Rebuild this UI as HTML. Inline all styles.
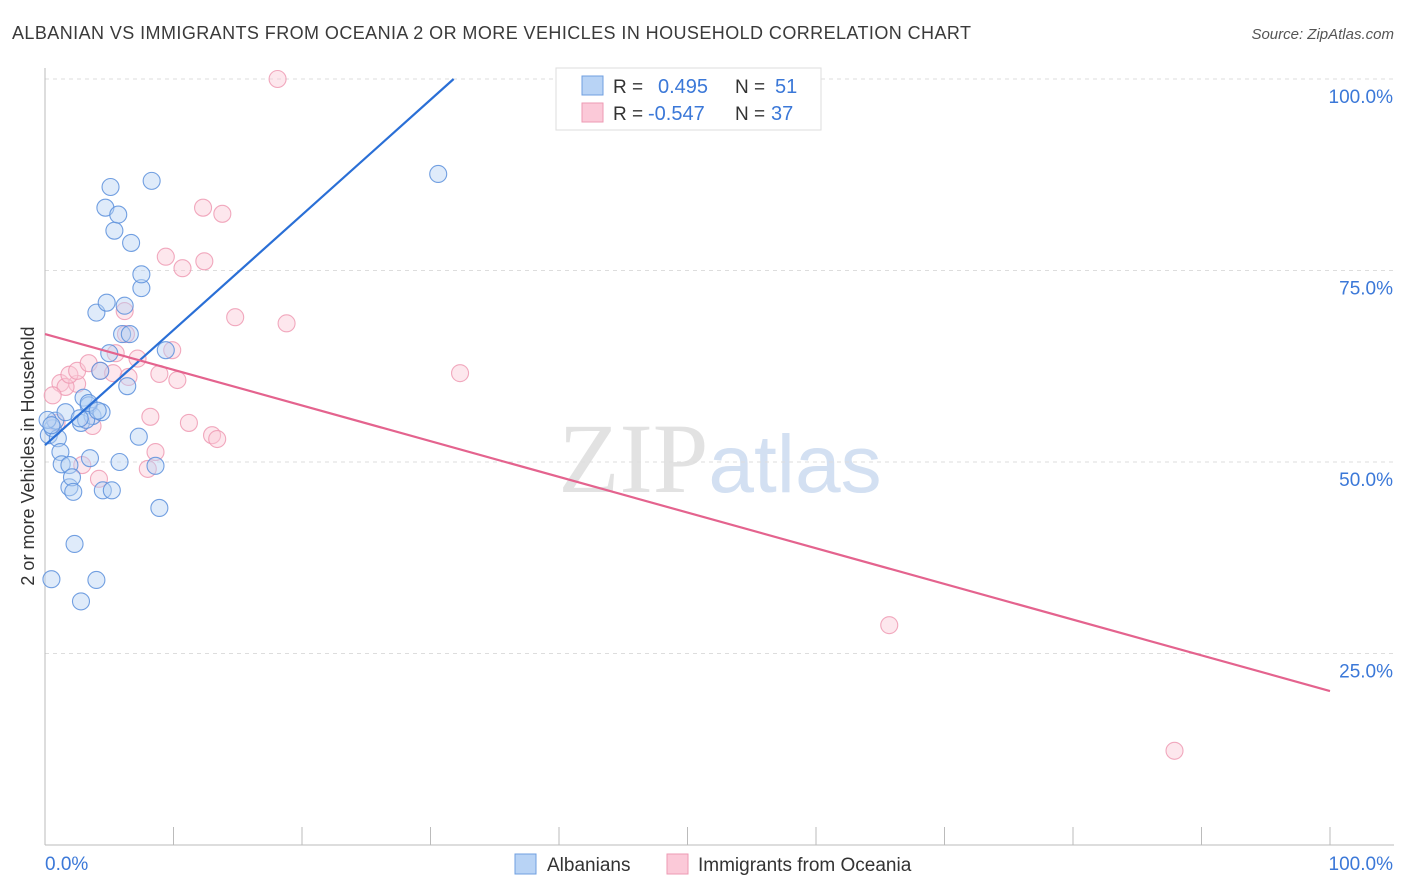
<!DOCTYPE html>
<html><head><meta charset="utf-8"><style>
body{margin:0;background:#fff;font-family:"Liberation Sans",sans-serif;}
svg{display:block}
</style></head><body>
<svg id="chart" width="1406" height="892" xmlns="http://www.w3.org/2000/svg" font-family="Liberation Sans, sans-serif">
<text x="12" y="39" font-size="18" fill="#3a3a3a" textLength="959" lengthAdjust="spacing">ALBANIAN VS IMMIGRANTS FROM OCEANIA 2 OR MORE VEHICLES IN HOUSEHOLD CORRELATION CHART</text>
<text x="1394" y="39" font-size="15" fill="#555" text-anchor="end" font-style="italic">Source: ZipAtlas.com</text>
<text x="720" y="492" font-size="100" text-anchor="middle" fill="#e2e2e2" font-family="Liberation Serif, serif">ZIP<tspan fill="#d3e0f2" font-family="Liberation Sans, sans-serif" font-size="82">atlas</tspan></text>
<g id="grid"></g>
<g id="axes"></g>
<g id="pts"></g>
<g id="lines"></g>
<text transform="translate(34,456) rotate(-90)" font-size="18" fill="#333" text-anchor="middle">2 or more Vehicles in Household</text>
<g>
<rect x="556" y="68" width="265" height="62" fill="#fff" stroke="#ddd"/>
<rect x="582" y="76" width="21" height="19" fill="#b8d3f5" stroke="#6f9fe0"/>
<rect x="582" y="103" width="21" height="19" fill="#fbc9d8" stroke="#ee9ab3"/>
<text x="613" y="93" font-size="19" fill="#333">R =</text>
<text x="658" y="93" font-size="20" fill="#3b78d8">0.495</text>
<text x="735" y="93" font-size="19" fill="#333">N =</text>
<text x="775" y="93" font-size="20" fill="#3b78d8">51</text>
<text x="613" y="120" font-size="19" fill="#333">R =</text>
<text x="648" y="120" font-size="20" fill="#3b78d8">-0.547</text>
<text x="735" y="120" font-size="19" fill="#333">N =</text>
<text x="771" y="120" font-size="20" fill="#3b78d8">37</text>
</g>
<g>
<rect x="515" y="854" width="21" height="20" fill="#b8d3f5" stroke="#6f9fe0"/>
<text x="547" y="871" font-size="19" fill="#333">Albanians</text>
<rect x="667" y="854" width="21" height="20" fill="#fbc9d8" stroke="#ee9ab3"/>
<text x="698" y="871" font-size="19" fill="#333">Immigrants from Oceania</text>
</g>
</svg>
<script>
const yTicks=[25,50,75,100];
const yTickLabels=["25.0%","50.0%","75.0%","100.0%"];
const xEndLabels=["0.0%","100.0%"];
const blueX=[0.5,0.3,0.6,0.8,1.0,1.2,1.3,1.6,1.9,1.9,2.1,2.2,2.3,2.8,2.8,3.0,3.4,3.5,3.7,4.0,4.0,4.3,4.4,4.5,4.7,4.8,5.0,5.1,5.2,5.4,5.7,5.8,6.0,6.2,6.4,6.6,6.7,7.3,7.5,7.5,8.3,8.6,8.9,9.4,30.6,3.4,0.2,0.5,3.2,2.7,4.1];
const blueY=[34.7,53.5,54.4,55.4,53.1,51.3,49.7,56.5,46.7,49.6,48.0,46.1,39.3,31.8,55.1,58.4,57.4,50.5,56.0,34.6,69.5,61.9,56.5,46.3,83.2,70.8,64.2,85.9,46.3,80.2,82.3,50.0,66.7,70.4,59.9,66.7,78.6,53.3,72.7,74.5,86.7,49.5,44.0,64.6,87.6,57.7,55.5,54.8,55.5,55.7,56.7];
const pinkX=[18.1,12.3,13.8,9.4,10.7,12.4,14.8,18.8,32.3,6.2,6.3,2.5,1.2,1.6,1.9,2.5,3.4,4.3,5.3,5.5,6.5,7.2,8.9,9.9,10.3,0.6,0.9,3.7,8.2,11.2,13.0,13.4,8.6,8.0,2.9,4.2,65.7];
const pinkY=[100,83.2,82.4,76.8,75.3,76.2,68.9,68.1,61.6,69.7,66.7,60.2,60.3,59.8,61.4,61.9,62.9,61.9,61.6,64.2,61.1,63.5,61.5,64.6,60.7,58.7,55.1,54.7,55.9,55.1,53.5,53.0,51.3,49.1,49.6,47.8,28.7];
const pinkX2=[87.9];const pinkY2=[12.3];
const trendBlue=[0,52.2,31.8,100];
const trendPink=[0,66.7,100,20.1];
const X0=45,X1=1330,Y0=845,Y100=79;
const sx=v=>X0+(X1-X0)*v/100, sy=v=>Y0-(Y0-Y100)*v/100;
const NS="http://www.w3.org/2000/svg";
function mk(tag,parent,attrs){const e=document.createElementNS(NS,tag);for(const k in attrs)e.setAttribute(k,attrs[k]);parent.appendChild(e);return e;}
const grid=document.getElementById('grid'),axes=document.getElementById('axes');
yTicks.forEach((t,i)=>{
 const l=mk('line',grid,{x1:X0,x2:1394,y1:sy(t),y2:sy(t),stroke:'#ddd','stroke-dasharray':'4,4'});
 
 
 const tx=mk('text',axes,{x:1393,y:sy(t)+24,'font-size':19,fill:'#3b78d8','text-anchor':'end'});
 tx.textContent=yTickLabels[i];
 
 
});
const ax=mk('line',axes,{x1:X0,x2:X0,y1:68,y2:Y0,stroke:'#bbb'});


const bx=mk('line',axes,{x1:X0,x2:1394,y1:Y0,y2:Y0,stroke:'#bbb'});


for(let i=1;i<=10;i++){const t=mk('line',axes,{x1:sx(i*10),x2:sx(i*10),y1:Y0-18,y2:Y0,stroke:'#bbb'});
 
 }
const xl0=mk('text',axes,{x:45,y:870,'font-size':19,fill:'#3b78d8'});xl0.textContent=xEndLabels[0];


const xl1=mk('text',axes,{x:1393,y:870,'font-size':19,fill:'#3b78d8','text-anchor':'end'});xl1.textContent=xEndLabels[1];


const pts=document.getElementById('pts');
function dots(xs,ys,fill,stroke,name){xs.forEach((x,i)=>{const c=mk('circle',pts,{cx:sx(x),cy:sy(ys[i]),r:8.5,fill:fill,'fill-opacity':0.45,stroke:stroke,'stroke-width':1.1,'stroke-opacity':0.85});
 
 });}
dots(pinkX,pinkY,'#fbc9d8','#ee9ab3','oceania-point');
dots(pinkX2,pinkY2,'#fbc9d8','#ee9ab3','oceania-point');
dots(blueX,blueY,'#b8d3f5','#5b8fdc','albanian-point');
const lines=document.getElementById('lines');
const lb=mk('line',lines,{x1:sx(trendBlue[0]),y1:sy(trendBlue[1]),x2:sx(trendBlue[2]),y2:sy(trendBlue[3]),stroke:'#2a6fd6','stroke-width':2.2});


const lp=mk('line',lines,{x1:sx(trendPink[0]),y1:sy(trendPink[1]),x2:sx(trendPink[2]),y2:sy(trendPink[3]),stroke:'#e4638e','stroke-width':2.2});


</script>
</body></html>
